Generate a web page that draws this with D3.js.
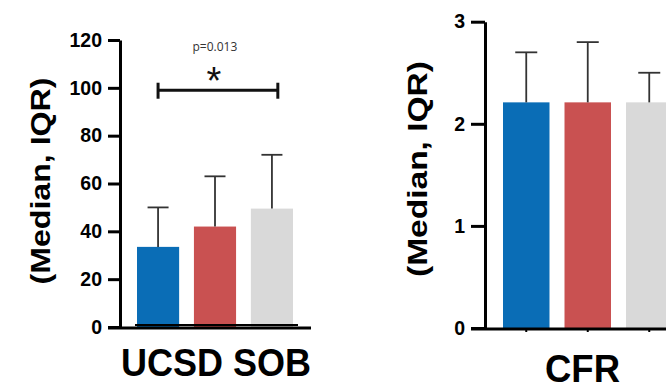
<!DOCTYPE html>
<html>
<head>
<meta charset="utf-8">
<script src="https://cdn.jsdelivr.net/npm/d3@7"></script>
<style>
  html, body { margin: 0; padding: 0; background: #fff; }
  svg { display: block; font-family: "Liberation Sans", Arial, sans-serif; }
</style>
</head>
<body>
<div id="chart"></div>
<script>
// groups (same three colours in both panels)
const groups = ['g1', 'g2', 'g3'];
const groupColors = ['#0a6db6', '#c95151', '#d9d9d9'];

// left panel: UCSD SOB
const sobMedian = [33.5, 42, 49.5];
const sobUpper = [50, 63, 72];
const sobTicks = [0, 20, 40, 60, 80, 100, 120];
const sobPValue = 'p=0.013';
const sobBracketY = 99;

// right panel: CFR
const cfrMedian = [2.21, 2.21, 2.21];
const cfrUpper = [2.7, 2.8, 2.5];
const cfrTicks = [0, 1, 2, 3];

const width = 666;
const height = 382;

const svg = d3.select('#chart').append('svg')
    .attr('width', width)
    .attr('height', height);

function drawPanel(opts) {
    const g = svg.append('g');
    const y = d3.scaleLinear().domain(opts.domain).range([opts.y0, opts.y1]);
    const x = d3.scaleBand().domain(groups).range(opts.xRange).paddingInner(opts.pad);
    const bw = x.bandwidth();

    // bars
    g.selectAll('rect.bar')
        .data(opts.median)
        .enter()
        .append('rect')
        .attr('class', 'bar')
        .attr('x', (d, i) => x(groups[i]))
        .attr('width', bw)
        .attr('y', (d) => y(d))
        .attr('height', (d) => y(0) - y(d))
        .attr('fill', (d, i) => groupColors[i]);

    // error bars (upper whisker only)
    const err = g.selectAll('g.err')
        .data(opts.upper)
        .enter()
        .append('g')
        .attr('class', 'err')
        .attr('stroke', '#333')
        .attr('stroke-width', 1.8);
    err.append('line')
        .attr('x1', (d, i) => x(groups[i]) + bw / 2)
        .attr('x2', (d, i) => x(groups[i]) + bw / 2)
        .attr('y1', (d, i) => y(opts.median[i]))
        .attr('y2', (d) => y(d));
    err.append('line')
        .attr('x1', (d, i) => x(groups[i]) + bw / 2 - opts.cap)
        .attr('x2', (d, i) => x(groups[i]) + bw / 2 + opts.cap)
        .attr('y1', (d) => y(d))
        .attr('y2', (d) => y(d));

    // small ticks under the x axis
    if (opts.xTicks) {
        g.append('g')
            .attr('transform', `translate(0,${y(0)})`)
            .call(d3.axisBottom(x).tickSize(4).tickFormat(''))
            .call((a) => a.select('.domain').remove())
            .call((a) => a.selectAll('line').attr('stroke', '#000').attr('stroke-width', 2));
    }

    // x axis line
    g.append('line')
        .attr('x1', opts.axisX - opts.tickLen)
        .attr('x2', opts.xEnd)
        .attr('y1', y(0) + 1)
        .attr('y2', y(0) + 1)
        .attr('stroke', '#000')
        .attr('stroke-width', 3);

    // y axis
    const yAxis = g.append('g')
        .attr('transform', `translate(${opts.axisX},0)`)
        .call(d3.axisLeft(y).tickValues(opts.ticks).tickFormat(d3.format('d'))
            .tickSize(opts.tickLen).tickSizeOuter(0).tickPadding(6));
    yAxis.select('.domain').attr('stroke', '#000').attr('stroke-width', 3);
    yAxis.selectAll('.tick line').attr('stroke', '#000').attr('stroke-width', 3);
    yAxis.selectAll('.tick text')
        .attr('fill', '#000')
        .attr('font-size', 19.5)
        .attr('font-weight', 'bold')
        .attr('font-family', '"Liberation Sans", Arial, sans-serif');

    // y title
    g.append('text')
        .attr('transform', `translate(${opts.titleX},${opts.titleY}) rotate(-90)`)
        .attr('text-anchor', 'middle')
        .attr('dominant-baseline', 'central')
        .attr('font-size', opts.titleSize)
        .attr('font-weight', 'bold')
        .attr('textLength', opts.titleLen)
        .attr('lengthAdjust', 'spacingAndGlyphs')
        .text('(Median, IQR)');

    // category label under the panel
    g.append('text')
        .attr('x', opts.labelX)
        .attr('y', opts.labelY)
        .attr('font-size', 38)
        .attr('font-weight', 'bold')
        .attr('textLength', opts.labelLen)
        .attr('lengthAdjust', 'spacingAndGlyphs')
        .text(opts.label);

    return { x, y, g, bw };
}

const left = drawPanel({
    domain: [0, 120], y0: 327, y1: 40,
    xRange: [137, 293], pad: 0.26, cap: 10.5,
    axisX: 120, tickLen: 12, xEnd: 311,
    ticks: sobTicks,
    median: sobMedian, upper: sobUpper,
    titleX: 41, titleY: 181, titleSize: 27, titleLen: 207,
    label: 'UCSD SOB', labelX: 121, labelY: 376, labelLen: 190,
    xTicks: false
});

// dark base under the bars of the left panel
left.g.append('line')
    .attr('x1', left.x(groups[0]) - 2)
    .attr('x2', left.x(groups[2]) + left.bw + 5)
    .attr('y1', left.y(0) - 2)
    .attr('y2', left.y(0) - 2)
    .attr('stroke', '#000')
    .attr('stroke-width', 2);

// significance bracket between first and third group
const bx1 = left.x(groups[0]) + left.bw / 2;
const bx2 = left.x(groups[2]) + left.bw * 0.64;
const by = left.y(sobBracketY);
const bracket = left.g.append('g').attr('stroke', '#111').attr('stroke-width', 3);
bracket.append('line').attr('x1', bx1).attr('x2', bx2).attr('y1', by).attr('y2', by);
bracket.append('line').attr('x1', bx1).attr('x2', bx1).attr('y1', by - 7.5).attr('y2', by + 8.5);
bracket.append('line').attr('x1', bx2).attr('x2', bx2).attr('y1', by - 7.5).attr('y2', by + 8.5);

left.g.append('text')
    .attr('x', (bx1 + bx2) / 2 - 4)
    .attr('y', by + 4)
    .attr('text-anchor', 'middle')
    .attr('font-size', 38)
    .attr('fill', '#111')
    .text('*');

left.g.append('text')
    .attr('x', (bx1 + bx2) / 2 - 3)
    .attr('y', by - 39)
    .attr('text-anchor', 'middle')
    .attr('font-size', 12)
    .attr('fill', '#333')
    .attr('font-family', '"Open Sans", "DejaVu Sans", sans-serif')
    .text(sobPValue);

drawPanel({
    domain: [0, 3], y0: 328, y1: 21.7,
    xRange: [503, 672.5], pad: 0.244, cap: 11,
    axisX: 485, tickLen: 14, xEnd: 666,
    ticks: cfrTicks,
    median: cfrMedian, upper: cfrUpper,
    titleX: 417, titleY: 169, titleSize: 28, titleLen: 216,
    label: 'CFR', labelX: 545, labelY: 382, labelLen: 75,
    xTicks: true
});
</script>
</body>
</html>
